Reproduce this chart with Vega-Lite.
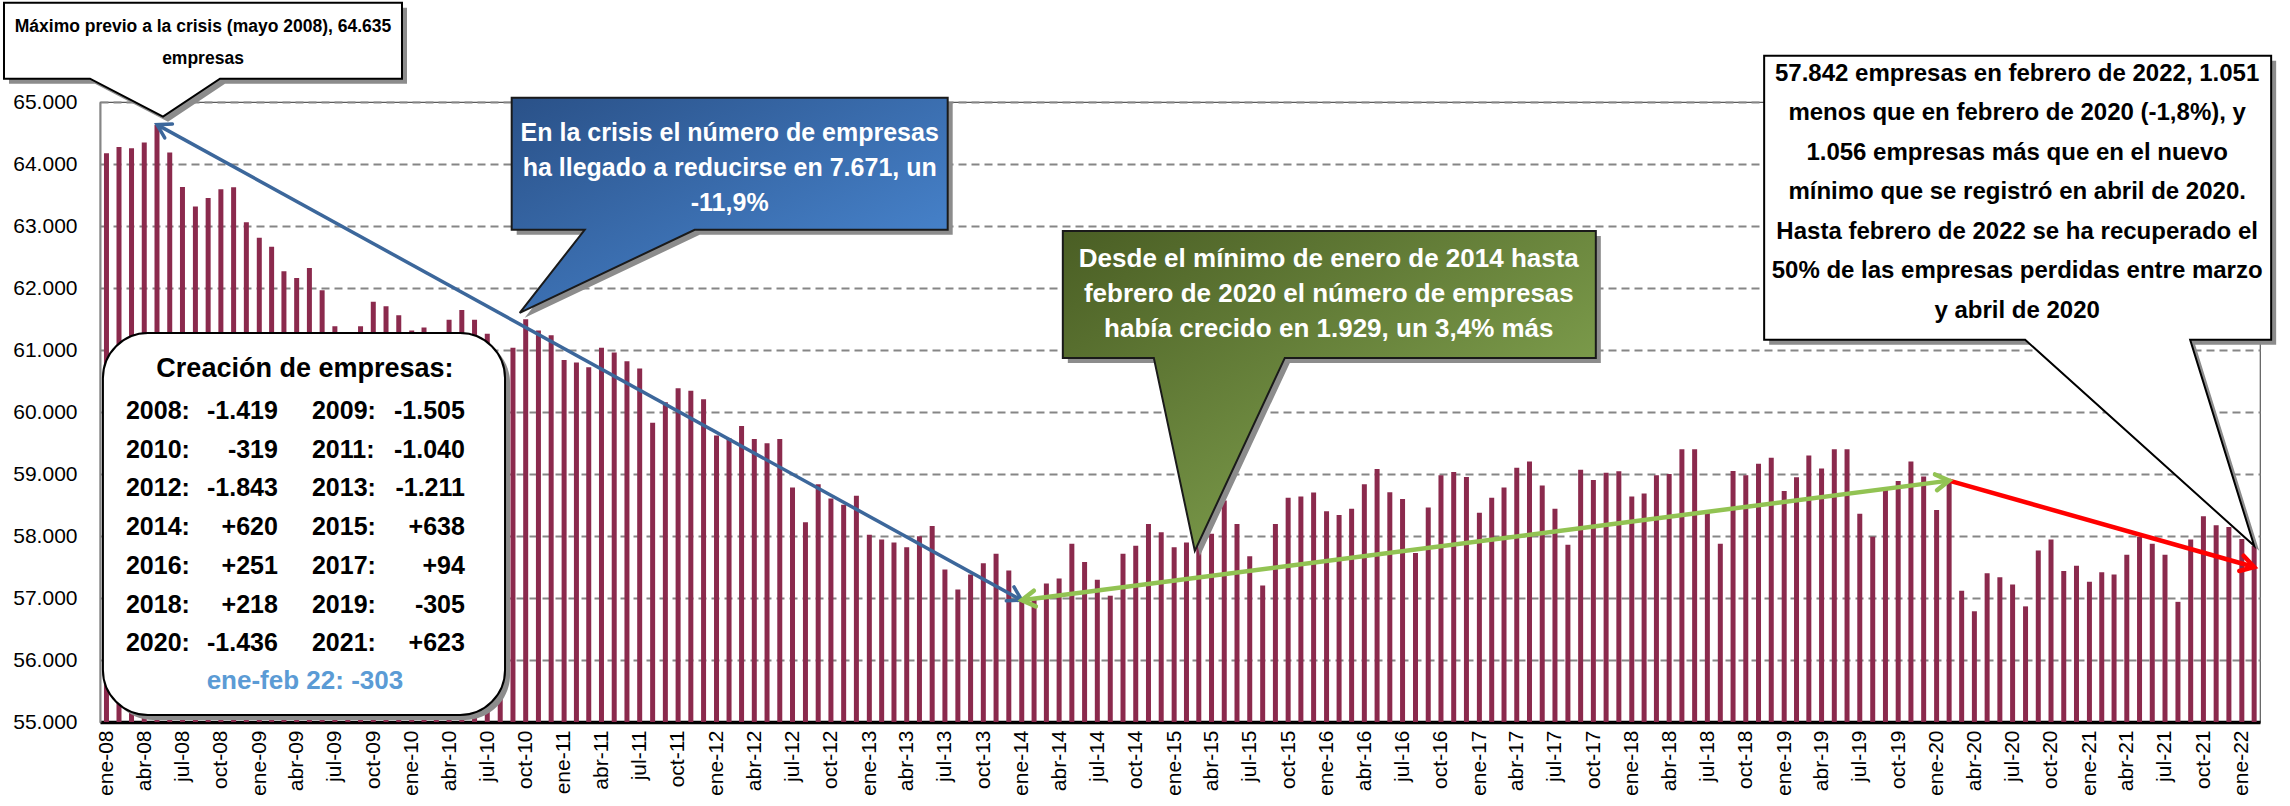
{
  "$schema": "https://vega.github.io/schema/vega-lite/v6.json",
  "width": 2160,
  "height": 620,
  "autosize": {"type": "none"},
  "padding": {"left": 100, "top": 102, "right": 30, "bottom": 84},
  "background": "white",
  "config": {"view": {"stroke": "#595959", "strokeWidth": 1.2}, "font": "Liberation Sans"},
  "datasets": {
    "empresas": [
      {"fecha": "2008-01", "empresas": 64173}, {"fecha": "2008-02", "empresas": 64273}, {"fecha": "2008-03", "empresas": 64253}, {"fecha": "2008-04", "empresas": 64345}, {"fecha": "2008-05", "empresas": 64635}, {"fecha": "2008-06", "empresas": 64187}, {"fecha": "2008-07", "empresas": 63631}, {"fecha": "2008-08", "empresas": 63313}, {"fecha": "2008-09", "empresas": 63452}, {"fecha": "2008-10", "empresas": 63591}, {"fecha": "2008-11", "empresas": 63624}, {"fecha": "2008-12", "empresas": 63062},
      {"fecha": "2009-01", "empresas": 62811}, {"fecha": "2009-02", "empresas": 62665}, {"fecha": "2009-03", "empresas": 62269}, {"fecha": "2009-04", "empresas": 62163}, {"fecha": "2009-05", "empresas": 62321}, {"fecha": "2009-06", "empresas": 61964}, {"fecha": "2009-07", "empresas": 61382}, {"fecha": "2009-08", "empresas": 60850}, {"fecha": "2009-09", "empresas": 61382}, {"fecha": "2009-10", "empresas": 61779}, {"fecha": "2009-11", "empresas": 61706}, {"fecha": "2009-12", "empresas": 61561},
      {"fecha": "2010-01", "empresas": 61316}, {"fecha": "2010-02", "empresas": 61362}, {"fecha": "2010-03", "empresas": 61200}, {"fecha": "2010-04", "empresas": 61488}, {"fecha": "2010-05", "empresas": 61647}, {"fecha": "2010-06", "empresas": 61488}, {"fecha": "2010-07", "empresas": 61263}, {"fecha": "2010-08", "empresas": 60648}, {"fecha": "2010-09", "empresas": 61038}, {"fecha": "2010-10", "empresas": 61495}, {"fecha": "2010-11", "empresas": 61316}, {"fecha": "2010-12", "empresas": 61237},
      {"fecha": "2011-01", "empresas": 60840}, {"fecha": "2011-02", "empresas": 60800}, {"fecha": "2011-03", "empresas": 60721}, {"fecha": "2011-04", "empresas": 61038}, {"fecha": "2011-05", "empresas": 60959}, {"fecha": "2011-06", "empresas": 60820}, {"fecha": "2011-07", "empresas": 60701}, {"fecha": "2011-08", "empresas": 59828}, {"fecha": "2011-09", "empresas": 60159}, {"fecha": "2011-10", "empresas": 60384}, {"fecha": "2011-11", "empresas": 60344}, {"fecha": "2011-12", "empresas": 60205},
      {"fecha": "2012-01", "empresas": 59620}, {"fecha": "2012-02", "empresas": 59577}, {"fecha": "2012-03", "empresas": 59775}, {"fecha": "2012-04", "empresas": 59563}, {"fecha": "2012-05", "empresas": 59497}, {"fecha": "2012-06", "empresas": 59563}, {"fecha": "2012-07", "empresas": 58783}, {"fecha": "2012-08", "empresas": 58221}, {"fecha": "2012-09", "empresas": 58836}, {"fecha": "2012-10", "empresas": 58604}, {"fecha": "2012-11", "empresas": 58505}, {"fecha": "2012-12", "empresas": 58650},
      {"fecha": "2013-01", "empresas": 58022}, {"fecha": "2013-02", "empresas": 57943}, {"fecha": "2013-03", "empresas": 57897}, {"fecha": "2013-04", "empresas": 57817}, {"fecha": "2013-05", "empresas": 57996}, {"fecha": "2013-06", "empresas": 58161}, {"fecha": "2013-07", "empresas": 57460}, {"fecha": "2013-08", "empresas": 57136}, {"fecha": "2013-09", "empresas": 57381}, {"fecha": "2013-10", "empresas": 57560}, {"fecha": "2013-11", "empresas": 57712}, {"fecha": "2013-12", "empresas": 57442},
      {"fecha": "2014-01", "empresas": 56964}, {"fecha": "2014-02", "empresas": 56990}, {"fecha": "2014-03", "empresas": 57235}, {"fecha": "2014-04", "empresas": 57315}, {"fecha": "2014-05", "empresas": 57877}, {"fecha": "2014-06", "empresas": 57579}, {"fecha": "2014-07", "empresas": 57295}, {"fecha": "2014-08", "empresas": 57037}, {"fecha": "2014-09", "empresas": 57712}, {"fecha": "2014-10", "empresas": 57844}, {"fecha": "2014-11", "empresas": 58194}, {"fecha": "2014-12", "empresas": 58062},
      {"fecha": "2015-01", "empresas": 57817}, {"fecha": "2015-02", "empresas": 57897}, {"fecha": "2015-03", "empresas": 57857}, {"fecha": "2015-04", "empresas": 58036}, {"fecha": "2015-05", "empresas": 58571}, {"fecha": "2015-06", "empresas": 58194}, {"fecha": "2015-07", "empresas": 57672}, {"fecha": "2015-08", "empresas": 57202}, {"fecha": "2015-09", "empresas": 58194}, {"fecha": "2015-10", "empresas": 58618}, {"fecha": "2015-11", "empresas": 58638}, {"fecha": "2015-12", "empresas": 58700},
      {"fecha": "2016-01", "empresas": 58399}, {"fecha": "2016-02", "empresas": 58340}, {"fecha": "2016-03", "empresas": 58439}, {"fecha": "2016-04", "empresas": 58836}, {"fecha": "2016-05", "empresas": 59081}, {"fecha": "2016-06", "empresas": 58704}, {"fecha": "2016-07", "empresas": 58598}, {"fecha": "2016-08", "empresas": 57725}, {"fecha": "2016-09", "empresas": 58459}, {"fecha": "2016-10", "empresas": 58981}, {"fecha": "2016-11", "empresas": 59034}, {"fecha": "2016-12", "empresas": 58951},
      {"fecha": "2017-01", "empresas": 58373}, {"fecha": "2017-02", "empresas": 58618}, {"fecha": "2017-03", "empresas": 58783}, {"fecha": "2017-04", "empresas": 59101}, {"fecha": "2017-05", "empresas": 59200}, {"fecha": "2017-06", "empresas": 58816}, {"fecha": "2017-07", "empresas": 58439}, {"fecha": "2017-08", "empresas": 57857}, {"fecha": "2017-09", "empresas": 59067}, {"fecha": "2017-10", "empresas": 58902}, {"fecha": "2017-11", "empresas": 59021}, {"fecha": "2017-12", "empresas": 59045},
      {"fecha": "2018-01", "empresas": 58638}, {"fecha": "2018-02", "empresas": 58684}, {"fecha": "2018-03", "empresas": 58981}, {"fecha": "2018-04", "empresas": 59001}, {"fecha": "2018-05", "empresas": 59398}, {"fecha": "2018-06", "empresas": 59398}, {"fecha": "2018-07", "empresas": 58419}, {"fecha": "2018-08", "empresas": 57877}, {"fecha": "2018-09", "empresas": 59048}, {"fecha": "2018-10", "empresas": 58981}, {"fecha": "2018-11", "empresas": 59167}, {"fecha": "2018-12", "empresas": 59263},
      {"fecha": "2019-01", "empresas": 58724}, {"fecha": "2019-02", "empresas": 58948}, {"fecha": "2019-03", "empresas": 59299}, {"fecha": "2019-04", "empresas": 59087}, {"fecha": "2019-05", "empresas": 59398}, {"fecha": "2019-06", "empresas": 59398}, {"fecha": "2019-07", "empresas": 58360}, {"fecha": "2019-08", "empresas": 57989}, {"fecha": "2019-09", "empresas": 58783}, {"fecha": "2019-10", "empresas": 58889}, {"fecha": "2019-11", "empresas": 59200}, {"fecha": "2019-12", "empresas": 58958},
      {"fecha": "2020-01", "empresas": 58419}, {"fecha": "2020-02", "empresas": 58893}, {"fecha": "2020-03", "empresas": 57116}, {"fecha": "2020-04", "empresas": 56786}, {"fecha": "2020-05", "empresas": 57401}, {"fecha": "2020-06", "empresas": 57335}, {"fecha": "2020-07", "empresas": 57216}, {"fecha": "2020-08", "empresas": 56865}, {"fecha": "2020-09", "empresas": 57765}, {"fecha": "2020-10", "empresas": 57943}, {"fecha": "2020-11", "empresas": 57434}, {"fecha": "2020-12", "empresas": 57522},
      {"fecha": "2021-01", "empresas": 57262}, {"fecha": "2021-02", "empresas": 57415}, {"fecha": "2021-03", "empresas": 57381}, {"fecha": "2021-04", "empresas": 57698}, {"fecha": "2021-05", "empresas": 57989}, {"fecha": "2021-06", "empresas": 57877}, {"fecha": "2021-07", "empresas": 57698}, {"fecha": "2021-08", "empresas": 56938}, {"fecha": "2021-09", "empresas": 57943}, {"fecha": "2021-10", "empresas": 58320}, {"fecha": "2021-11", "empresas": 58175}, {"fecha": "2021-12", "empresas": 58145},
      {"fecha": "2022-01", "empresas": 57950}, {"fecha": "2022-02", "empresas": 57842}
    ]
  },
  "layer": [
    {
      "data": {"name": "empresas"},
      "mark": {"type": "bar", "width": 5, "color": "#8B2A4D"},
      "encoding": {
        "x": {
          "field": "fecha", "type": "temporal", "timeUnit": "utcyearmonth", "bandPosition": 0.5,
          "scale": {"type": "utc", "domain": [{"year": 2008, "month": 1, "date": 1, "utc": true}, {"year": 2022, "month": 3, "date": 1, "utc": true}]},
          "axis": {
            "title": null, "tickCount": {"interval": "month", "step": 3},
            "labelExpr": "['ene','feb','mar','abr','may','jun','jul','ago','sep','oct','nov','dic'][utcmonth(datum.value)] + '-' + utcFormat(datum.value, '%y')",
            "labelAngle": -90, "labelFontSize": 21, "labelFont": "Liberation Sans", "labelColor": "black",
            "labelPadding": 8, "labelOffset": 6.35, "ticks": false, "domainColor": "black", "domainWidth": 3.5,
            "grid": false, "labelOverlap": false, "labelBound": false, "labelFlush": false
          }
        },
        "y": {
          "field": "empresas", "type": "quantitative",
          "scale": {"domain": [55000, 65000], "nice": false, "zero": false},
          "axis": {
            "title": null, "values": [55000, 56000, 57000, 58000, 59000, 60000, 61000, 62000, 63000, 64000, 65000],
            "labelExpr": "replace(format(datum.value, ','), ',', '.')",
            "labelFontSize": 21, "labelFont": "Liberation Sans", "labelColor": "black", "labelPadding": 23,
            "ticks": false, "grid": true, "gridDash": [8, 5], "gridColor": "#868686", "gridWidth": 1.8,
            "domainColor": "#868686", "domainWidth": 2
          }
        },
        "y2": {"datum": 55000}
      }
    },
    {
      "data": {"values": [{}]},
      "mark": {"type": "rect", "fill": "#8c8c8c", "cornerRadius": 45},
      "encoding": {
        "x": {"datum": {"year": 2008, "month": 1, "date": 20, "utc": true}, "type": "temporal"},
        "x2": {"datum": {"year": 2010, "month": 9, "date": 9, "utc": true}},
        "y": {"datum": 61194}, "y2": {"datum": 55032}
      }
    },
    {
      "data": {"values": [{}]},
      "mark": {"type": "rect", "fill": "white", "stroke": "black", "strokeWidth": 2, "cornerRadius": 45},
      "encoding": {
        "x": {"datum": {"year": 2008, "month": 1, "date": 8, "utc": true}, "type": "temporal"},
        "x2": {"datum": {"year": 2010, "month": 8, "date": 28, "utc": true}},
        "y": {"datum": 61274}, "y2": {"datum": 55113}
      }
    },
    {
      "data": {"values": [{}]},
      "mark": {"type": "text", "text": "Creación de empresas:", "font": "Liberation Sans", "fontWeight": "bold", "fontSize": 27, "align": "center", "baseline": "middle", "dx": 2, "dy": -167, "color": "black"},
      "encoding": {"x": {"datum": {"year": 2009, "month": 5, "date": 1, "utc": true}, "type": "temporal"}, "y": {"datum": 58000}}
    },
    {
      "data": {"values": [{}]},
      "mark": {"type": "text", "text": ["2008:", "2010:", "2012:", "2014:", "2016:", "2018:", "2020:"], "font": "Liberation Sans", "fontWeight": "bold", "fontSize": 25, "lineHeight": 38.7, "align": "left", "baseline": "middle", "dx": -177, "dy": -125, "color": "black"},
      "encoding": {"x": {"datum": {"year": 2009, "month": 5, "date": 1, "utc": true}, "type": "temporal"}, "y": {"datum": 58000}}
    },
    {
      "data": {"values": [{}]},
      "mark": {"type": "text", "text": ["-1.419", "-319", "-1.843", "+620", "+251", "+218", "-1.436"], "font": "Liberation Sans", "fontWeight": "bold", "fontSize": 25, "lineHeight": 38.7, "align": "right", "baseline": "middle", "dx": -25, "dy": -125, "color": "black"},
      "encoding": {"x": {"datum": {"year": 2009, "month": 5, "date": 1, "utc": true}, "type": "temporal"}, "y": {"datum": 58000}}
    },
    {
      "data": {"values": [{}]},
      "mark": {"type": "text", "text": ["2009:", "2011:", "2013:", "2015:", "2017:", "2019:", "2021:"], "font": "Liberation Sans", "fontWeight": "bold", "fontSize": 25, "lineHeight": 38.7, "align": "left", "baseline": "middle", "dx": 9, "dy": -125, "color": "black"},
      "encoding": {"x": {"datum": {"year": 2009, "month": 5, "date": 1, "utc": true}, "type": "temporal"}, "y": {"datum": 58000}}
    },
    {
      "data": {"values": [{}]},
      "mark": {"type": "text", "text": ["-1.505", "-1.040", "-1.211", "+638", "+94", "-305", "+623"], "font": "Liberation Sans", "fontWeight": "bold", "fontSize": 25, "lineHeight": 38.7, "align": "right", "baseline": "middle", "dx": 162, "dy": -125, "color": "black"},
      "encoding": {"x": {"datum": {"year": 2009, "month": 5, "date": 1, "utc": true}, "type": "temporal"}, "y": {"datum": 58000}}
    },
    {
      "data": {"values": [{}]},
      "mark": {"type": "text", "text": "ene-feb 22: -303", "font": "Liberation Sans", "fontWeight": "bold", "fontSize": 26, "align": "center", "baseline": "middle", "dx": 2, "dy": 145, "color": "#5B9BD5"},
      "encoding": {"x": {"datum": {"year": 2009, "month": 5, "date": 1, "utc": true}, "type": "temporal"}, "y": {"datum": 58000}}
    },
    {
      "data": {"values": [{}]},
      "mark": {"type": "point", "shape": "M -148 -117 L 250 -117 L 250 -41 L 68 -41 L 11 -3 L -62 -41 L -148 -41 Z", "size": 4, "filled": true, "fill": "#8c8c8c", "strokeWidth": 0, "opacity": 1},
      "encoding": {"x": {"datum": {"year": 2008, "month": 5, "date": 16, "hours": 12, "utc": true}, "type": "temporal"}, "y": {"datum": 64635}}
    },
    {
      "data": {"values": [{}]},
      "mark": {"type": "point", "shape": "M -153 -122 L 245 -122 L 245 -46 L 63 -46 L 6 -8 L -67 -46 L -153 -46 Z", "size": 4, "filled": true, "fill": "white", "stroke": "black", "strokeWidth": 2, "opacity": 1},
      "encoding": {"x": {"datum": {"year": 2008, "month": 5, "date": 16, "hours": 12, "utc": true}, "type": "temporal"}, "y": {"datum": 64635}}
    },
    {
      "data": {"values": [{}]},
      "mark": {"type": "text", "text": ["Máximo previo a la crisis (mayo 2008), 64.635", "empresas"], "font": "Liberation Sans", "fontWeight": "bold", "fontSize": 17.5, "lineHeight": 32, "align": "center", "baseline": "middle", "dx": 46, "dy": -98, "color": "black"},
      "encoding": {"x": {"datum": {"year": 2008, "month": 5, "date": 16, "hours": 12, "utc": true}, "type": "temporal"}, "y": {"datum": 64635}}
    },
    {
      "data": {"values": [{}]},
      "mark": {"type": "point", "shape": "M -9 -210 L 427 -210 L 427 -78 L 174 -78 L -1 5 L 64 -78 L -9 -78 Z", "size": 4, "filled": true, "fill": "#8c8c8c", "strokeWidth": 0, "opacity": 1},
      "encoding": {"x": {"datum": {"year": 2010, "month": 10, "date": 16, "hours": 12, "utc": true}, "type": "temporal"}, "y": {"datum": 61600}}
    },
    {
      "data": {"values": [{}]},
      "mark": {"type": "point", "shape": "M -14 -215 L 422 -215 L 422 -83 L 169 -83 L -6 0 L 59 -83 L -14 -83 Z", "size": 4, "filled": true,
        "fill": {"gradient": "linear", "x1": 0, "y1": 0, "x2": 1, "y2": 1, "stops": [{"offset": 0, "color": "#2A5188"}, {"offset": 1, "color": "#4C8CD8"}]},
        "stroke": "#1a1a1a", "strokeWidth": 2, "opacity": 1},
      "encoding": {"x": {"datum": {"year": 2010, "month": 10, "date": 16, "hours": 12, "utc": true}, "type": "temporal"}, "y": {"datum": 61600}}
    },
    {
      "data": {"values": [{}]},
      "mark": {"type": "text", "text": ["En la crisis el número de empresas", "ha llegado a reducirse en 7.671, un", "-11,9%"], "font": "Liberation Sans", "fontWeight": "bold", "fontSize": 25, "lineHeight": 35, "align": "center", "baseline": "middle", "dx": 204, "dy": -180, "color": "white"},
      "encoding": {"x": {"datum": {"year": 2010, "month": 10, "date": 16, "hours": 12, "utc": true}, "type": "temporal"}, "y": {"datum": 61600}}
    },
    {
      "data": {"values": [{}]},
      "mark": {"type": "point", "shape": "M -127 -315 L 406 -315 L 406 -188 L 95 -188 L 5 5 L -36 -188 L -127 -188 Z", "size": 4, "filled": true, "fill": "#8c8c8c", "strokeWidth": 0, "opacity": 1},
      "encoding": {"x": {"datum": {"year": 2015, "month": 3, "date": 7, "utc": true}, "type": "temporal"}, "y": {"datum": 57760}}
    },
    {
      "data": {"values": [{}]},
      "mark": {"type": "point", "shape": "M -132 -320 L 401 -320 L 401 -193 L 90 -193 L 0 0 L -41 -193 L -132 -193 Z", "size": 4, "filled": true,
        "fill": {"gradient": "linear", "x1": 0, "y1": 0, "x2": 1, "y2": 1, "stops": [{"offset": 0, "color": "#4A5E24"}, {"offset": 1, "color": "#8FB35A"}]},
        "stroke": "#1a1a1a", "strokeWidth": 2, "opacity": 1},
      "encoding": {"x": {"datum": {"year": 2015, "month": 3, "date": 7, "utc": true}, "type": "temporal"}, "y": {"datum": 57760}}
    },
    {
      "data": {"values": [{}]},
      "mark": {"type": "text", "text": ["Desde el mínimo de enero de 2014 hasta", "febrero de 2020 el número de empresas", "había crecido en 1.929, un 3,4% más"], "font": "Liberation Sans", "fontWeight": "bold", "fontSize": 26, "lineHeight": 35, "align": "center", "baseline": "middle", "dx": 134, "dy": -292, "color": "white"},
      "encoding": {"x": {"datum": {"year": 2015, "month": 3, "date": 7, "utc": true}, "type": "temporal"}, "y": {"datum": 57760}}
    },
    {
      "data": {"values": [{}]},
      "mark": {"type": "point", "shape": "M -485 -485 L 22 -485 L 22 -201 L -59 -201 L 5 5 L -224 -201 L -485 -201 Z", "size": 4, "filled": true, "fill": "#8c8c8c", "strokeWidth": 0, "opacity": 1},
      "encoding": {"x": {"datum": {"year": 2022, "month": 2, "date": 15, "utc": true}, "type": "temporal"}, "y": {"datum": 57842}}
    },
    {
      "data": {"values": [{}]},
      "mark": {"type": "point", "shape": "M -490 -490 L 17 -490 L 17 -206 L -64 -206 L 0 0 L -229 -206 L -490 -206 Z", "size": 4, "filled": true, "fill": "white", "stroke": "black", "strokeWidth": 2, "opacity": 1},
      "encoding": {"x": {"datum": {"year": 2022, "month": 2, "date": 15, "utc": true}, "type": "temporal"}, "y": {"datum": 57842}}
    },
    {
      "data": {"values": [{}]},
      "mark": {"type": "text", "text": ["57.842 empresas en febrero de 2022, 1.051", "menos que en febrero de 2020 (-1,8%), y", "1.056 empresas más que en el nuevo", "mínimo que se registró en abril de 2020.", "Hasta febrero de 2022 se ha recuperado el", "50% de las empresas perdidas entre marzo", "y abril de 2020"], "font": "Liberation Sans", "fontWeight": "bold", "fontSize": 24, "lineHeight": 39.5, "align": "center", "baseline": "middle", "dx": -237, "dy": -472, "color": "black"},
      "encoding": {"x": {"datum": {"year": 2022, "month": 2, "date": 15, "utc": true}, "type": "temporal"}, "y": {"datum": 57842}}
    },
    {
      "data": {"values": [{}]},
      "mark": {"type": "rule", "color": "#3C679B", "strokeWidth": 3.5},
      "encoding": {
        "x": {"datum": {"year": 2008, "month": 5, "date": 16, "hours": 12, "utc": true}, "type": "temporal"}, "y": {"datum": 64635},
        "x2": {"datum": {"year": 2014, "month": 1, "date": 16, "hours": 12, "utc": true}}, "y2": {"datum": 56964}
      }
    },
    {
      "data": {"values": [{}]},
      "mark": {"type": "rule", "color": "#92C353", "strokeWidth": 4.5},
      "encoding": {
        "x": {"datum": {"year": 2014, "month": 1, "date": 16, "hours": 12, "utc": true}, "type": "temporal"}, "y": {"datum": 56964},
        "x2": {"datum": {"year": 2020, "month": 2, "date": 15, "hours": 12, "utc": true}}, "y2": {"datum": 58893}
      }
    },
    {
      "data": {"values": [{}]},
      "mark": {"type": "rule", "color": "#FF0000", "strokeWidth": 4.5},
      "encoding": {
        "x": {"datum": {"year": 2020, "month": 2, "date": 15, "hours": 12, "utc": true}, "type": "temporal"}, "y": {"datum": 58893},
        "x2": {"datum": {"year": 2022, "month": 2, "date": 15, "utc": true}}, "y2": {"datum": 57500}
      }
    },
    {
      "data": {"values": [{}]},
      "mark": {"type": "point", "shape": "M -1 -0.6 L 0 0 L -1 0.6", "size": 700, "filled": false, "stroke": "#3C679B", "strokeWidth": 3.5, "angle": 208.8, "opacity": 1, "strokeCap": "round"},
      "encoding": {"x": {"datum": {"year": 2008, "month": 5, "date": 16, "hours": 12, "utc": true}, "type": "temporal"}, "y": {"datum": 64635}}
    },
    {
      "data": {"values": [{}]},
      "mark": {"type": "point", "shape": "M -1 -0.6 L 0 0 L -1 0.6", "size": 700, "filled": false, "stroke": "#3C679B", "strokeWidth": 3.5, "angle": 28.8, "opacity": 1, "strokeCap": "round"},
      "encoding": {"x": {"datum": {"year": 2014, "month": 1, "date": 16, "hours": 12, "utc": true}, "type": "temporal"}, "y": {"datum": 56964}}
    },
    {
      "data": {"values": [{}]},
      "mark": {"type": "point", "shape": "M -1 -0.6 L 0 0 L -1 0.6", "size": 700, "filled": false, "stroke": "#92C353", "strokeWidth": 4.5, "angle": 172.65, "opacity": 1, "strokeCap": "round"},
      "encoding": {"x": {"datum": {"year": 2014, "month": 1, "date": 16, "hours": 12, "utc": true}, "type": "temporal"}, "y": {"datum": 56964}}
    },
    {
      "data": {"values": [{}]},
      "mark": {"type": "point", "shape": "M -1 -0.6 L 0 0 L -1 0.6", "size": 700, "filled": false, "stroke": "#92C353", "strokeWidth": 4.5, "angle": 352.65, "opacity": 1, "strokeCap": "round"},
      "encoding": {"x": {"datum": {"year": 2020, "month": 2, "date": 15, "hours": 12, "utc": true}, "type": "temporal"}, "y": {"datum": 58893}}
    },
    {
      "data": {"values": [{}]},
      "mark": {"type": "point", "shape": "M -1 -0.6 L 0 0 L -1 0.6", "size": 700, "filled": false, "stroke": "#FF0000", "strokeWidth": 4.5, "angle": 15.8, "opacity": 1, "strokeCap": "round"},
      "encoding": {"x": {"datum": {"year": 2022, "month": 2, "date": 15, "utc": true}, "type": "temporal"}, "y": {"datum": 57500}}
    }
  ]
}
